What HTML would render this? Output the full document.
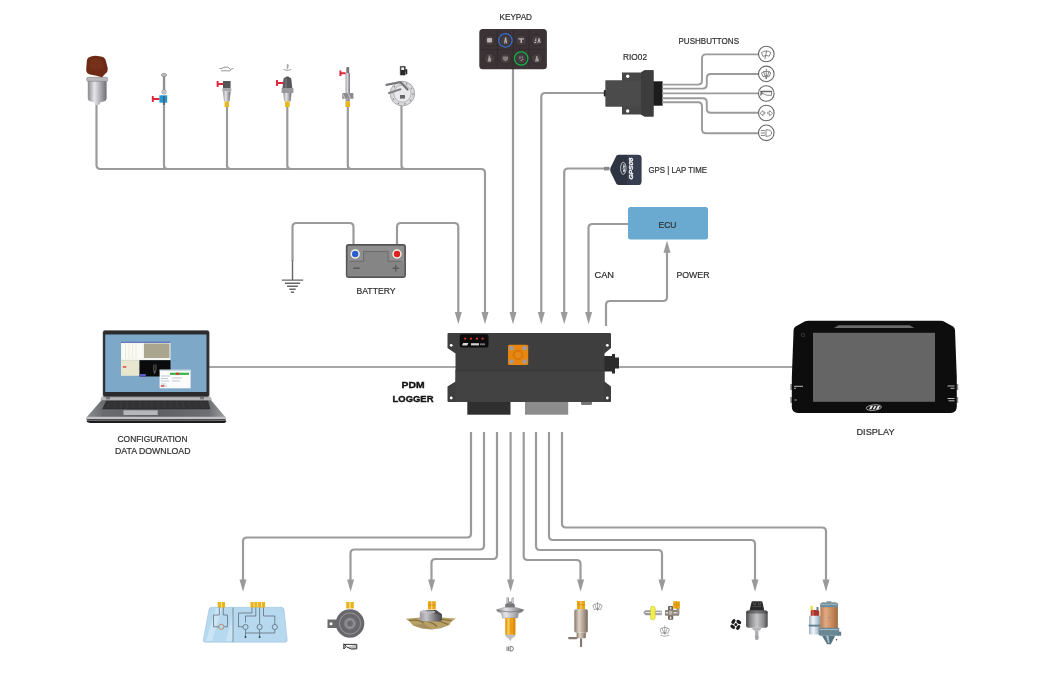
<!DOCTYPE html>
<html><head><meta charset="utf-8"><title>PDM wiring diagram</title>
<style>
html,body{margin:0;padding:0;background:#fff;}
body{width:1057px;height:677px;overflow:hidden;font-family:"Liberation Sans",sans-serif;}
svg{display:block;filter:blur(0.35px);}
.w{fill:none;stroke:#9b9b9b;stroke-width:2.2;stroke-linejoin:round;stroke-linecap:butt;}
.ah{fill:#9b9b9b;}
text{font-family:"Liberation Sans",sans-serif;fill:#303030;font-size:9.3px;stroke:#303030;stroke-width:0.22;}
.b{font-weight:bold;fill:#141414;font-size:9.700px;stroke:#141414;stroke-width:0.400;}
</style></head><body>
<svg width="1057" height="677" viewBox="0 0 1057 677">
<defs>
<linearGradient id="gSilver" x1="0" x2="1" y1="0" y2="0">
<stop offset="0" stop-color="#8a8a8e"/><stop offset="0.35" stop-color="#e6e6ea"/><stop offset="0.7" stop-color="#a4a4aa"/><stop offset="1" stop-color="#6e6e74"/>
</linearGradient>
<linearGradient id="gDark" x1="0" x2="1" y1="0" y2="0">
<stop offset="0" stop-color="#4a4a4a"/><stop offset="0.4" stop-color="#9a9a9a"/><stop offset="1" stop-color="#3c3c3c"/>
</linearGradient>
<linearGradient id="gCyl" x1="0" x2="1" y1="0" y2="0">
<stop offset="0" stop-color="#9a9a9e"/><stop offset="0.300" stop-color="#c4c4c8"/><stop offset="0.700" stop-color="#77777b"/><stop offset="1" stop-color="#4c4c50"/>
</linearGradient>
<linearGradient id="gPump" x1="0" x2="1" y1="0" y2="0">
<stop offset="0" stop-color="#8a786a"/><stop offset="0.350" stop-color="#ddd2c6"/><stop offset="0.650" stop-color="#b4a494"/><stop offset="1" stop-color="#7a695c"/>
</linearGradient>
<linearGradient id="gMotor" x1="0" x2="1" y1="0" y2="0">
<stop offset="0" stop-color="#48484a"/><stop offset="0.200" stop-color="#8a8a8c"/><stop offset="0.500" stop-color="#c6c6c8"/><stop offset="0.800" stop-color="#8e8e90"/><stop offset="1" stop-color="#4a4a4c"/>
</linearGradient>
<linearGradient id="gCopper" x1="0" x2="1" y1="0" y2="0">
<stop offset="0" stop-color="#b87a50"/><stop offset="0.300" stop-color="#e0aa82"/><stop offset="0.650" stop-color="#c98a5e"/><stop offset="1" stop-color="#a06a42"/>
</linearGradient>
<linearGradient id="gSol" x1="0" x2="1" y1="0" y2="0">
<stop offset="0" stop-color="#9db2c0"/><stop offset="0.350" stop-color="#f2f6fa"/><stop offset="0.750" stop-color="#b4c6d2"/><stop offset="1" stop-color="#7f98a6"/>
</linearGradient>
<linearGradient id="gDeck" x1="0" x2="1" y1="0" y2="0">
<stop offset="0" stop-color="#8e8f92"/><stop offset="0.120" stop-color="#6a6b6e"/><stop offset="0.500" stop-color="#5e5f62"/><stop offset="0.880" stop-color="#6e6f72"/><stop offset="1" stop-color="#a2a3a6"/>
</linearGradient>
</defs>
<rect width="1057" height="677" fill="#ffffff"/>
<!--WIRES-->
<g id="wires">
<!-- sensor bus -->
<path class="w" d="M96.5 104V165Q96.5 169 100.5 169H481Q485 169 485 173V313"/>
<path class="w" d="M164 100V165.500Q164 169 167.500 169M227 106V165.500Q227 169 230.500 169M287.300 106V165.500Q287.300 169 290.800 169M347.800 106V165.500Q347.800 169 351.300 169M401.500 105V165.500Q401.500 169 405 169"/>
<!-- keypad -->
<path class="w" d="M513 69V313"/>
<!-- RIO02 -->
<path class="w" d="M606 93H545.300Q541.300 93 541.300 97V313"/>
<!-- GPS -->
<path class="w" d="M610 168.5H568.200Q564.200 168.500 564.200 172.500V313"/>
<!-- CAN -->
<path class="w" d="M628 224H592.5Q588.5 224 588.5 228V313"/>
<!-- POWER -->
<path class="w" d="M606 326V305Q606 301 610 301H663Q667 301 667 297V251"/>
<!-- battery -->
<path class="w" d="M292.500 261V227Q292.500 223 296.500 223H349.5Q353.5 223 353.5 227V246"/>
<path class="w" d="M397 246V227Q397 223 401 223H454.300Q458.300 223 458.300 227V313"/>
<!-- ground -->
<path d="M292.500 260.500V280M281.800 280.100H303.200M284.900 283.200H300.100M287.100 286.200H297.900M289.300 289.200H295.700M290.900 292.300H294.100" stroke="#666" stroke-width="1.400" fill="none"/>
<!-- laptop / display -->
<path d="M209 367H456M618 367H793" stroke="#8a8a8a" stroke-width="1.6" fill="none"/>
<!-- outputs -->
<path class="w" d="M471 432V533.5Q471 537.5 467 537.5H247Q243 537.5 243 541.5V581"/>
<path class="w" d="M484 432V545.5Q484 549.5 480 549.5H354.5Q350.5 549.5 350.5 553.5V581"/>
<path class="w" d="M497 432V555Q497 559 493 559H435.5Q431.5 559 431.5 563V581"/>
<path class="w" d="M510.600 432V581"/>
<path class="w" d="M523.7 432V556Q523.7 560 527.7 560H576.5Q580.5 560 580.5 564V581"/>
<path class="w" d="M536 432V546Q536 550 540 550H658Q662 550 662 554V581"/>
<path class="w" d="M549 432V536Q549 540 553 540H751Q755 540 755 544V581"/>
<path class="w" d="M562 432V523.5Q562 527.5 566 527.5H822Q826 527.5 826 531.5V581"/>
</g>
<!--ARROWS-->
<g id="arrows" class="ah">
<path d="M454.8 312.1h7.0l-3.5 12.2z"/>
<path d="M481.5 312.1h7.0l-3.5 12.2z"/>
<path d="M509.5 312.1h7.0l-3.5 12.2z"/>
<path d="M537.8 312.1h7.0l-3.5 12.2z"/>
<path d="M560.7 312.1h7.0l-3.5 12.2z"/>
<path d="M585.1 312.1h7.0l-3.5 12.2z"/>
<path d="M663.5 252.7h7.0l-3.5 -12.2z"/>
<path d="M239.5 579.6h7.0l-3.5 12.2z"/>
<path d="M347.1 579.6h7.0l-3.5 12.2z"/>
<path d="M428.1 579.6h7.0l-3.5 12.2z"/>
<path d="M507.1 579.6h7.0l-3.5 12.2z"/>
<path d="M577.1 579.6h7.0l-3.5 12.2z"/>
<path d="M658.5 579.6h7.0l-3.5 12.2z"/>
<path d="M751.5 579.6h7.0l-3.5 12.2z"/>
<path d="M822.5 579.6h7.0l-3.5 12.2z"/>
</g>
<!--ECU-->
<rect x="628" y="207" width="80" height="32.5" rx="2.5" fill="#6baad0"/>
<!--BATTERY-->
<g id="battery">
<rect x="346.700" y="244.900" width="58.400" height="32.200" rx="2" fill="#8f8f8f" stroke="#535353" stroke-width="1.700"/>
<path d="M347.600 261.200H363.600V251.400H388.200V261.200H404.200V276.200H347.600Z" fill="#858585"/>
<path d="M349.500 261.200H363.600V251.400H388.200V261.200H401.200" fill="none" stroke="#6a6a6a" stroke-width="1"/>
<circle cx="355.200" cy="254" r="4.700" fill="#f3efe6"/><circle cx="355.200" cy="254" r="3.200" fill="#2a5fd4"/>
<circle cx="397" cy="254" r="4.700" fill="#f3efe6"/><circle cx="397" cy="254" r="3.200" fill="#e02020"/>
<path d="M353.300 268.300H359.800M392.600 268.300H399M395.800 265.100V271.500" stroke="#5a5a5a" stroke-width="1.400" fill="none"/>
</g>
<!--PDM-->
<g id="pdm">
<rect x="467.3" y="400" width="43.2" height="14.7" fill="#2f2f2f"/>
<rect x="525" y="400" width="43.2" height="14.7" fill="#8c8c8c"/>
<rect x="581" y="400" width="11" height="5" rx="1.5" fill="#777"/>
<path d="M603 356h9v-2h3v3.5h4v11h-4v5h-3v-2h-9z" fill="#2b2b2b"/>
<path d="M448.5 333H610Q611 333 611 334V348L604.5 353.500V381.500L611 386.500V401Q611 402 610 402H448.5Q447.5 402 447.5 401V386.500L455.5 381.500V353.500L447.5 348V334Q447.5 333 448.5 333Z" fill="#3e3e3e"/>
<rect x="455.5" y="370.5" width="149" height="31.5" fill="#424242"/>
<path d="M455.5 370.7H604.5" stroke="#353535" stroke-width="0.8"/>
<circle cx="451.2" cy="345.3" r="1.4" fill="#fff"/><circle cx="451.2" cy="398" r="1.4" fill="#fff"/>
<circle cx="607.3" cy="345.3" r="1.4" fill="#fff"/><circle cx="607.3" cy="398" r="1.4" fill="#fff"/>
<rect x="459.8" y="334.2" width="28.7" height="13.3" rx="2" fill="#0c0c0c"/>
<circle cx="465.2" cy="338.7" r="1.1" fill="#d8342c"/><circle cx="471" cy="338.7" r="1.1" fill="#d8342c"/><circle cx="476.9" cy="338.7" r="1.1" fill="#d8342c"/><circle cx="482.6" cy="338.7" r="1.1" fill="#d8342c"/>
<path d="M462 345.5l1.2-2.6h5.2l-1.2 2.6z" fill="#d8d8d8"/><rect x="471" y="343.2" width="8" height="2.2" fill="#cfcfcf"/><rect x="480" y="343.4" width="5" height="1.8" fill="#777"/>
<rect x="508" y="344.8" width="20.2" height="20.2" rx="1.5" fill="#e8850c"/>
<circle cx="518.1" cy="354.9" r="5.2" fill="#d87808"/><circle cx="518.1" cy="354.9" r="3.2" fill="#e48a1a"/>
<circle cx="511.5" cy="348.3" r="2.3" fill="#9a9ca4"/><circle cx="524.7" cy="348.3" r="2.3" fill="#9a9ca4"/><circle cx="511.5" cy="361.5" r="2.3" fill="#9a9ca4"/><circle cx="524.7" cy="361.5" r="2.3" fill="#9a9ca4"/>
</g>
<!--KEYPAD-->
<g id="keypad">
<rect x="479.3" y="29" width="67.6" height="40.3" rx="3.5" fill="#3b3335"/>
<path d="M497.4 30V68M513.2 30V68M529 30V68M480 49.5H546" stroke="#2f292b" stroke-width="0.7"/>
<g fill="#453d3f" stroke="#2e2829" stroke-width="0.8">
<circle cx="489.5" cy="40.4" r="5.6"/><circle cx="505.4" cy="40.4" r="5.6"/><circle cx="521.2" cy="40.4" r="5.6"/><circle cx="537" cy="40.4" r="5.6"/>
<circle cx="489.5" cy="58.5" r="5.6"/><circle cx="505.4" cy="58.5" r="5.6"/><circle cx="521.2" cy="58.5" r="5.6"/><circle cx="537" cy="58.5" r="5.6"/>
</g>
<circle cx="505.4" cy="40.4" r="6.7" fill="none" stroke="#3c6fd2" stroke-width="1.3"/>
<circle cx="521.2" cy="58.5" r="6.7" fill="none" stroke="#16b24c" stroke-width="1.3"/>
<g fill="#cfc9c4" opacity="0.85">
<rect x="487" y="38" width="5" height="4.6" rx="0.8"/>
<path d="M504 43.5l1-6h1.2l1 6h-1l-0.5-2.5l-0.6 2.5z"/>
<path d="M518.5 38.2h5.4v1.2h-1.9v3.6h-1.5v-3.6h-2z"/>
<path d="M534.2 43v-1h2v1zM534.6 41.3l1-3h0.8v3zM537.4 43l1.2-5h0.9l1.2 5h-0.9l-0.3-1.2h-0.9l-0.3 1.2z"/>
<path d="M487.5 61.5l1.5-6h1l0.3 2.5l1 0.3l-0.5 3.4z" opacity="0.8"/>
<path d="M502.8 56.5h5.2v3l-2.6 2l-2.6-2z" opacity="0.55"/>
<path d="M519.3 56.3h1.3v2.6h-1.3zM521.7 56.3h1.3v2h-1.3zM520.2 60.5l2.8-2l0.6 1l-2.8 2z" opacity="0.6"/>
<path d="M535 61.5l1.3-5.6h1.2l0.4 2.8l1 0.4l-0.3 2.4z" opacity="0.8"/>
</g>
</g>
<!--RIO02-->
<g id="rio">
<rect x="653" y="81.3" width="9.6" height="24.4" fill="#1c1c1c"/>
<rect x="603.8" y="90" width="3" height="6.5" rx="1" fill="#222"/>
<path d="M622 72.4H641L644.5 70.2H653.5V116.4H644.5L641 114.6H622V106.6H605.6V80.4H622Z" fill="#474747"/>
<path d="M641 72.4L644.5 70.2H653.5V116.4H644.5L641 114.6Z" fill="#3d3d3d"/>
<path d="M605.6 80.4H641V106.6H605.6Z" fill="#4b4b4b"/>
<circle cx="627.7" cy="76.2" r="1.7" fill="#fff"/><circle cx="627.7" cy="111" r="1.7" fill="#fff"/>
</g>
<!-- RIO wires -->
<g class="w" style="stroke-width:1.9">
<path d="M662 84.6H698Q702 84.6 702 80.6V58.4Q702 54.4 706 54.4H758.5"/>
<path d="M662 88.6H702.8Q706.8 88.6 706.8 84.6V78Q706.8 74 710.8 74H758.5"/>
<path d="M662 93.4H758.5"/>
<path d="M662 98.3H702.8Q706.8 98.3 706.8 102.3V108.8Q706.8 112.8 710.8 112.8H758.5"/>
<path d="M662 102.3H698Q702 102.3 702 106.3V129.2Q702 133.2 706 133.2H758.5"/>
</g>
<!-- pushbutton circles -->
<g fill="#fff" stroke="#686868" stroke-width="1.100">
<circle cx="766.3" cy="54" r="7.800"/><circle cx="766.3" cy="73.9" r="7.800"/><circle cx="766.3" cy="93.5" r="7.800"/><circle cx="766.3" cy="113" r="7.800"/><circle cx="766.3" cy="132.800" r="7.800"/>
</g>
<g fill="none" stroke="#6a6a6a" stroke-width="0.8" stroke-linecap="round" stroke-linejoin="round">
<!-- wiper -->
<path d="M761.8 52.5Q766.3 49.3 770.8 52.5L769.2 56.2Q766.3 54.6 763.4 56.2ZM766.6 51.2L765 58.6"/>
<!-- washer -->
<path d="M761.8 72.8Q766.3 69.6 770.8 72.8L769.2 76.5Q766.3 74.9 763.4 76.5ZM766.3 69V78.6M766.3 78.6Q764.5 75.5 763.6 71.5M766.3 78.6Q768.1 75.5 769 71.5"/>
<!-- horn -->
<path d="M760.800 91L762.800 93.200L760.800 95.400Z" fill="#6a6a6a" stroke-width="0.500"/><path d="M761.200 91.500H771.600" stroke-width="1.300"/><path d="M771.600 91.500V95.300Q766.500 96 763.200 93.800" stroke-width="0.800"/>
<!-- arrows -->
<path d="M760.300 113L762.900 110.600V112.100H764.900V113.900H762.900V115.400ZM772.300 113L769.700 110.600V112.100H767.700V113.900H769.700V115.400Z" stroke-width="0.700"/>
<!-- headlight -->
<path d="M766.4 129.7Q771.6 129.7 771.6 133Q771.6 136.3 766.4 136.3ZM761.2 130.6H764.6M761.2 133H764.6M761.2 135.4H764.6"/>
</g>
<!--GPS-->
<g id="gps">
<path d="M604 166.8h5v3.6h-5z" fill="#8a8a8a"/>
<path d="M616.5 155.6Q617.5 154.8 619 154.8H638Q641.4 154.8 641.4 158V181.5Q641.4 185 638 185H619Q617.5 185 616.5 184L610.6 172Q609.8 169.5 610.6 167.5Z" fill="#2e3442"/>
<path d="M627 155H638Q641.4 155 641.4 158V181.5Q641.4 185 638 185H627Z" fill="#3a4152" opacity="0.8"/>
<ellipse cx="623.300" cy="168.300" rx="2.700" ry="6" fill="none" stroke="#e4e4e4" stroke-width="0.800"/>
<text transform="translate(624.600 172.300) rotate(-90)" style="font-size:3.600px;font-weight:bold;font-style:italic;fill:#f0f0f0;stroke:none" textLength="8" lengthAdjust="spacingAndGlyphs">aim</text>
<text transform="translate(633.200 179.600) rotate(-90)" style="font-size:5.600px;font-weight:bold;font-style:italic;fill:#fafafa;stroke:#fafafa;stroke-width:0.250" textLength="22" lengthAdjust="spacingAndGlyphs">GPS08</text>
</g>
<!--LAPTOP-->
<g id="laptop">
<path d="M89 419.800H224Q228.500 421.300 224.500 423H90Q83.500 421.500 89 419.800Z" fill="#1c1c1c"/>
<path d="M102.500 399H210L226 417.800Q226.300 420.600 223.500 420.600H89.500Q85.800 420.600 86.200 417.800Z" fill="url(#gDeck)"/>
<path d="M101.500 396.500H210.500L212 400.200H100.500Z" fill="#b4b5b8"/>
<rect x="106" y="396.800" width="4" height="2.600" fill="#77787b"/><rect x="200" y="396.800" width="4" height="2.600" fill="#77787b"/>
<path d="M106.200 400.700H208.200L210.200 409.200H102.200Z" fill="#2c2c2e"/>
<path d="M105.500 402.800H208.800M104.700 404.900H209.300M103.800 407H209.800" stroke="#4a4a4d" stroke-width="0.500"/>
<path d="M110 400.700L107 409.200M116 400.700L113.500 409.200M122 400.700L120 409.200M128 400.700L126.500 409.200M134 400.700L133 409.200M140 400.700L139.500 409.200M146 400.700V409.200M152 400.700V409.200M158 400.700L158.500 409.200M164 400.700L165 409.200M170 400.700L171.500 409.200M176 400.700L178 409.200M182 400.700L184.500 409.200M188 400.700L191 409.200M194 400.700L197.500 409.200M200 400.700L204 409.200" stroke="#454548" stroke-width="0.450"/>
<rect x="123.500" y="410.300" width="34.200" height="4.700" fill="#b6b7ba"/>
<path d="M87.300 416.800H225L226 417.800Q226.300 420.600 223.500 420.600H89.500Q85.800 420.600 86.200 417.800Z" fill="#c2c3c6"/>
<path d="M87 419H225.500Q226 420.600 223.500 420.600H89.500Q86 420.600 87 419Z" fill="#4c4c4e"/>
<rect x="103" y="330.6" width="106.2" height="66.200" rx="1.800" fill="#2c2c2e" stroke="#5e5e60" stroke-width="0.500"/>
<rect x="105.200" y="334.500" width="101.300" height="57.500" fill="#7ea8c8"/>
<rect x="121" y="341.8" width="49.5" height="18.4" fill="#f4f3ee"/>
<rect x="121" y="341.6" width="49.5" height="1.2" fill="#4060b0"/>
<rect x="144" y="343.5" width="25.5" height="14.5" fill="#a9a58f"/>
<rect x="122" y="343.5" width="20" height="15" fill="#fbfbf6"/><path d="M125.5 343.5V358.5M129 343.5V358.5M132.500 343.5V358.5M136 343.5V358.5" stroke="#d8d8cc" stroke-width="0.5"/>
<rect x="121" y="360.2" width="18.5" height="15.6" fill="#e9e6cf"/>
<rect x="139.5" y="360.2" width="31" height="16.3" fill="#0a0a0a"/>
<path d="M154 364.5Q153 369 154.5 373.5Q156.5 370 156 364.5" stroke="#888" stroke-width="0.7" fill="none"/>
<rect x="139.800" y="374" width="6" height="2.400" fill="#5a5ad0"/>
<rect x="159.600" y="369.800" width="31" height="18.500" fill="#fbfbfb"/>
<rect x="159.600" y="369.6" width="31" height="1.2" fill="#bcd"/>
<rect x="170" y="372.700" width="19" height="2.200" fill="#3cb34a"/><rect x="176" y="372.700" width="3" height="2.200" fill="#d33"/>
<path d="M161 376H170M161 378.500H168M161 381H169M161 384H166M161 386.200H167M172 378H182M172 381H180" stroke="#9ab" stroke-width="0.6"/>
<rect x="160.800" y="385.300" width="3.500" height="1.300" fill="#d33"/><rect x="122.800" y="366.300" width="3.500" height="1.300" fill="#d33"/>
</g>
<!--DISPLAY-->
<g id="display">
<rect x="790.300" y="384" width="2" height="6" fill="#8c8c8c"/><rect x="790.300" y="397" width="2" height="6" fill="#8c8c8c"/>
<rect x="956.200" y="384" width="2" height="6" fill="#8c8c8c"/><rect x="956.200" y="397" width="2" height="6" fill="#8c8c8c"/>
<path d="M808.500 320.800H940.500Q942.500 320.800 944 321.600L953 326.500Q954.800 327.600 955 330L956.800 378V406.500Q956.800 413 950.500 413H798Q791.800 413 791.800 406.500V378L793.600 330Q793.800 327.600 795.600 326.500L804.500 321.600Q806 320.800 808.500 320.800Z" fill="#0d0d0d"/>
<path d="M838.500 325.200H909.500L914.300 328H834Z" fill="#6a6a6a"/>
<rect x="813" y="332.800" width="122" height="69" fill="#656565"/>
<circle cx="803" cy="335" r="1.700" fill="none" stroke="#3c3c3c" stroke-width="0.800"/>
<path d="M794 386.300H803M794 388.300H796M794.500 400H796.500M947.500 386H954.500M950.500 388.300H954.500M947.500 398.500H954.500M948.500 400.800H954.500" stroke="#d0d0d0" stroke-width="0.900"/>
<ellipse cx="873.800" cy="407.600" rx="7.600" ry="2.700" fill="none" stroke="#e6e6e6" stroke-width="0.700" transform="rotate(-6 873.800 407.600)"/>
<path d="M869 409.200l1.700-3.300h2.300l-1.700 3.300zM872.700 409.200l1.700-3.300h2l-1.700 3.300zM876 409.200l1.700-3.300h2.300l-1.700 3.300z" fill="#e6e6e6"/>
</g>

<!--SENSORS TOP-->
<g id="sensors">
<!-- 1 rain/light sensor -->
<path d="M87.800 81H106.600V98Q106.600 101 103.500 101.500L100.500 102.300L99.300 104.600Q97.200 105.900 95.100 104.600L93.900 102.300L90.900 101.500Q87.800 101 87.800 98Z" fill="url(#gSilver)"/>
<rect x="86.800" y="77.300" width="20.800" height="4" rx="1" fill="#b9b9be" stroke="#77777c" stroke-width="0.500"/>
<path d="M88.500 57.500Q93 55 99.500 56.200Q105 56.800 105.800 60.500L107.800 68.500Q108 72 105.500 73.500L102 77.300Q97 75.500 90 74.500Q86 73.500 86.200 69.500L86.800 61Q87 58.500 88.500 57.500Z" fill="#6e2a16"/>
<path d="M90 60Q95 58 102 60L104 68Q98 71 90 69Z" fill="#7a331c" opacity="0.700"/>
<!-- 2 level sensor -->
<rect x="162.900" y="76" width="2.300" height="18" fill="#8d8d92"/>
<ellipse cx="164" cy="75" rx="2.800" ry="1.700" fill="#b5b5ba" stroke="#77777c" stroke-width="0.400"/>
<circle cx="164" cy="92" r="2.300" fill="#c8c8cc" stroke="#77777c" stroke-width="0.400"/>
<rect x="159.400" y="95.300" width="7.800" height="7.400" fill="#1f9ad6"/>
<rect x="163" y="96" width="2" height="9" fill="#555" opacity="0.700"/>
<path d="M152.800 96V102M152.800 99H159.400" stroke="#e0243a" stroke-width="1.900" fill="none"/>
<!-- 3 oil pressure -->
<path d="M219.500 68.500H222L224 67.200H228L230.500 69.500L233.500 68.200M221 70.800H229.500L231 69.500" stroke="#8a8a8a" stroke-width="0.900" fill="none"/>
<rect x="223" y="81" width="7.600" height="7.500" fill="#555558"/>
<rect x="222.300" y="88.500" width="9" height="3" fill="#a8a8ad"/>
<path d="M223 91.500H230.600L229.600 101.500H224Z" fill="url(#gSilver)"/>
<rect x="224.600" y="101.500" width="4.400" height="5.500" fill="#e6b81e"/>
<path d="M217.600 81V87M217.600 84H223" stroke="#e0243a" stroke-width="1.900" fill="none"/>
<!-- 4 temp sensor -->
<path d="M283.500 69.500Q287.300 71.500 291.300 69.500M287.300 64V69.500M287.300 65.200H289M287.300 67H289" stroke="#8a8a8a" stroke-width="0.800" fill="none"/>
<path d="M283.400 79.500Q283.400 77.600 285.500 77.300L286.500 76.400H288.300L289.300 77.300Q291.400 77.600 291.400 79.500L292.300 88.500H282.500Z" fill="#58585c"/><path d="M285 78.500H287V88H284.600Z" fill="#77777b" opacity="0.700"/>
<rect x="281.600" y="88" width="11.800" height="5" fill="#98989d"/>
<path d="M283.300 93H291.500L290.700 101.300H284.200Z" fill="url(#gSilver)"/>
<rect x="285.100" y="101.300" width="4.600" height="5.700" fill="#e6b81e"/>
<path d="M277 80V86M277 83H283.500" stroke="#e0243a" stroke-width="1.900" fill="none"/>
<!-- 5 thin sensor -->
<rect x="346.300" y="67" width="2.900" height="7" rx="1" fill="#77777c"/>
<rect x="345.600" y="73" width="4.300" height="20" fill="url(#gSilver)"/>
<rect x="342.200" y="93" width="11.200" height="5.800" fill="#8d8d92"/>
<path d="M342.200 93L345 98.800M348 93L350.500 98.800" stroke="#c8c8cc" stroke-width="1"/>
<rect x="345.600" y="98.800" width="4.300" height="2.700" fill="#9a9a9f"/>
<rect x="345.400" y="101.300" width="4.600" height="5.700" fill="#e6b81e"/>
<path d="M340.400 70.500V76M340.400 73.200H345.600" stroke="#e0243a" stroke-width="1.900" fill="none"/>
<!-- 6 fuel level -->
<path d="M400.300 66.400H405.200V75H400.300ZM405.200 69.500H407V74H406" fill="#2a2a2a" stroke="#2a2a2a" stroke-width="0.600"/>
<rect x="401.200" y="67.400" width="3" height="2.600" fill="#eee"/>
<circle cx="402.400" cy="93.600" r="12.300" fill="#d9d9dc" stroke="#9a9a9e" stroke-width="0.800"/>
<circle cx="402.400" cy="93.600" r="8.600" fill="#e9e9ec" stroke="#a6a6aa" stroke-width="0.700"/>
<circle cx="402.400" cy="93.600" r="10.500" fill="none" stroke="#8a8a8e" stroke-width="1.400" stroke-dasharray="1.300 5.300"/>
<path d="M386.500 84.800L400.500 82L407.500 89.500" stroke="#77777b" stroke-width="2.200" fill="none" stroke-linejoin="round" stroke-linecap="round"/>
<path d="M389 93L400.500 89.300" stroke="#85858a" stroke-width="2.200" fill="none" stroke-linecap="round"/>
<rect x="400" y="95" width="5" height="3.600" fill="#66666a"/>
</g>

<!--BOTTOM ICONS-->
<g id="outputs">
<!-- 1 lights panel -->
<path d="M211.500 607.300H281.500Q283.500 607.300 284 609.500L287.200 640Q287.400 642.200 285.200 642.200H205.200Q203 642.200 203.300 640L209 609.500Q209.500 607.300 211.500 607.300Z" fill="#b7d9ef" stroke="#9cc3dd" stroke-width="0.600"/>
<path d="M206 641L216 608H222L212 641ZM226 641L233 615V641Z" fill="#d4eaf7" opacity="0.700"/>
<path d="M233 607.500V642" stroke="#6f7f8a" stroke-width="0.800"/>
<g fill="#e8b41a"><rect x="217.700" y="602" width="3.300" height="5.600"/><rect x="221.700" y="602" width="3.300" height="5.600"/>
<rect x="250.500" y="602" width="3.200" height="5.600"/><rect x="254.300" y="602" width="3.200" height="5.600"/><rect x="258.100" y="602" width="3.200" height="5.600"/><rect x="261.900" y="602" width="3.200" height="5.600"/></g>
<g fill="none" stroke="#55606a" stroke-width="0.700">
<path d="M219.300 607.600V615H213.500V626.800H218.800M223.300 607.600V615H227.500V626.800H223.800"/>
<circle cx="221.300" cy="626.800" r="2.600" stroke="#b8733a"/>
<path d="M252 607.600V613H238.500V626.800H243M255.800 607.600V616H245.500V622.500M259.600 607.600V619H259.600V624M263.500 607.600V616H274.800V624.500"/>
<circle cx="245.500" cy="627" r="2.600"/><circle cx="259.600" cy="627" r="2.600"/><circle cx="274.800" cy="627" r="2.600"/>
<path d="M245.500 629.600V637M259.600 629.600V637M274.800 629.600V633H245.500"/>
</g>
<circle cx="245.500" cy="637" r="0.900" fill="#333"/><circle cx="259.600" cy="637" r="0.900" fill="#333"/>
<!-- 2 horn -->
<g fill="#e8b41a"><rect x="346.200" y="602" width="3.400" height="6.500"/><rect x="350.400" y="602" width="3.400" height="6.500"/></g>
<path d="M327.500 619.500H338V628H327.500Z" fill="#6b6b6e"/><circle cx="331" cy="623.700" r="1.500" fill="#fff"/>
<circle cx="350" cy="623.500" r="14.300" fill="#68686c"/>
<circle cx="350" cy="623.500" r="10.600" fill="none" stroke="#a2a2a6" stroke-width="0.800"/>
<circle cx="350" cy="623.500" r="6.200" fill="#7c7c80"/>
<circle cx="350" cy="623.500" r="4.300" fill="none" stroke="#a8a8ac" stroke-width="0.900"/>
<circle cx="350" cy="623.500" r="2.600" fill="#6c6c70"/>
<path d="M343.800 643.800L346.400 646.400L343.800 649ZM344.300 644.400H356.800M356.800 644.400V648.800Q351 650.200 346.800 647" fill="#333" fill-opacity="0.300" stroke="#333" stroke-width="1"/>
<!-- 3 wiper -->
<g fill="#eaa614"><rect x="428" y="601.200" width="3.500" height="8.300"/><rect x="432.200" y="601.200" width="3.500" height="8.300"/></g>
<path d="M427.800 605H436" stroke="#c98a0c" stroke-width="0.600"/>
<path d="M405.800 618.800L420 617.500L442 617.500L456 618.600L451 621.800L449.500 625L441 628.300L432 629.500L422 628.500L413 625.500L410 622Z" fill="#b9a068"/>
<path d="M409 620.500Q420 619 424 623.500M419 621Q430 620 437 626.500M432 619.500Q441 621 448 624.500M440 619Q447 620 452 621" stroke="#7d7038" stroke-width="1.100" fill="none"/>
<path d="M424 623.500L432 629.300L422 628.300L413 625.300Z" fill="#a8905e"/>
<path d="M419.800 613Q419.800 610.300 425 610H436L442 614.500V620Q442 621.500 431 621.500Q419.800 621.500 419.800 620Z" fill="url(#gCyl)"/>
<path d="M426 610H436L442 614.500V616Q435 613 427 612.300Z" fill="#4e4e52"/>
<ellipse cx="428" cy="612" rx="7.500" ry="1.600" fill="#c2c2c6" opacity="0.800"/>
<!-- 4 bulb -->
<path d="M506.500 597.500H509V601.500H511.500V598.500L513.500 597V603L514.500 604.500V608H505.500V604.500L506.500 603Z" fill="#909095"/>
<path d="M507.600 598V603M512.500 598.500V603" stroke="#dcdce0" stroke-width="0.800"/>
<path d="M505.300 604.500Q510 602.500 514.700 604.500V608H505.300Z" fill="#77777c"/>
<path d="M496.300 609.800L505 607.200H515L523.800 609.800Q523 612 518.500 613.300L517.500 618H502.500L501.500 613.300Q497 612 496.300 609.800Z" fill="url(#gSilver)" stroke="#7d7d82" stroke-width="0.400"/>
<path d="M497 610.500Q510 613.500 523 610.500" stroke="#6a6a6e" stroke-width="0.700" fill="none"/>
<path d="M505.200 618H515.300V634.800H505.200Z" fill="#eb9f12"/>
<path d="M507.300 618H509.600V634.800H507.300Z" fill="#f6c860"/><path d="M513.300 618H515.300V634.800H513.300Z" fill="#d98a0a"/>
<path d="M505.200 634.800H515.300V636L511.500 639L510.300 641.300L509 639L505.200 636Z" fill="#bdbdc2"/>
<path d="M507 646.500V651M508.600 646.500V651M510.200 646.300Q513.500 646.300 513.500 648.700Q513.500 651.200 510.200 651.200Z" fill="none" stroke="#444" stroke-width="0.700"/>
<!-- 5 washer pump -->
<g fill="#eaa614"><rect x="577" y="601" width="3.700" height="8.500"/><rect x="581.300" y="601" width="3.700" height="8.500"/></g>
<path d="M576.800 604.800H585.200" stroke="#c98a0c" stroke-width="0.600"/>
<path d="M574.300 611Q574.300 609.200 576.100 609.200H586Q587.800 609.200 587.800 611V631Q587.800 632.400 586.400 632.400H575.700Q574.300 632.400 574.300 631Z" fill="url(#gPump)"/>
<path d="M576.600 632.400H585.800V637.300Q585.800 638.300 584.800 638.300H577.600Q576.600 638.300 576.600 637.300Z" fill="url(#gPump)"/>
<rect x="568.200" y="637" width="9" height="2.300" rx="0.800" fill="#857870"/>
<rect x="580" y="638.300" width="2.100" height="8.700" fill="#857870"/>
<g fill="none" stroke="#777" stroke-width="0.600"><path d="M592.800 605.400Q597.500 601.800 602.200 605.400L600.700 609.600Q597.500 608.100 594.300 609.600ZM597.500 602V610.300M597.500 610.300Q595.700 607.500 594.800 604M597.500 610.300Q599.300 607.500 600.200 604"/></g>
<!-- 6 washer jets -->
<path d="M643.300 612.600L645.500 610.200H651V615.200H645.500Z" fill="#9a9a9e"/>
<rect x="655" y="610.500" width="7" height="4.700" rx="0.800" fill="#aaaaae"/>
<path d="M645.500 612.500H651M655.500 612.500H661.500" stroke="#e8e8ea" stroke-width="1.200"/>
<rect x="650.500" y="606.200" width="4.700" height="13.600" rx="2" fill="#f2ee4c" stroke="#c2b830" stroke-width="0.500"/>
<rect x="668" y="605.900" width="5.200" height="13.900" rx="0.800" fill="#6c645e"/>
<rect x="665" y="610" width="14.200" height="5.800" rx="0.800" fill="#8b837c"/>
<path d="M665.800 612.800H668M673.500 612.800H678.500M670.600 607V609.500M670.600 616.500V619" stroke="#e2deda" stroke-width="1.500"/>
<rect x="669" y="611" width="3.200" height="3.600" fill="#bdb6ae"/>
<rect x="676.500" y="607.500" width="2.800" height="6" fill="#9a928a"/>
<g fill="#eaa614"><rect x="673.200" y="601.300" width="6.700" height="7.300"/></g>
<path d="M673.200 604.800H679.900M676.500 601.300V608.600" stroke="#c98a0c" stroke-width="0.600"/>
<g fill="none" stroke="#777" stroke-width="0.600"><path d="M660 629.200Q664.700 625.600 669.400 629.200L667.900 633.400Q664.700 631.900 661.500 633.400ZM664.700 625.500V634.300M664.700 634.300Q662.900 631.300 662 627.800M664.700 634.300Q666.500 631.300 667.400 627.800M660.500 635.300Q664.700 637.300 669 635.300"/></g>
<!-- 7 fan motor -->
<path d="M749.400 611L751.500 602.300Q751.700 601.300 752.800 601.300H761.200Q762.200 601.300 762.500 602.300L764.400 611Z" fill="#2a2a2a"/>
<path d="M753.300 601.300V604.500H755.500V601.300M758.500 601.300V604.500H760.700V601.300M752.500 606.500H761.500" stroke="#555" stroke-width="0.800" fill="none"/>
<path d="M746.100 612.500Q746.100 610.500 748.100 610.500H765.700Q767.700 610.500 767.700 612.500V625.700Q767.700 627.700 765.700 627.700H748.100Q746.100 627.700 746.100 625.700Z" fill="url(#gMotor)"/>
<path d="M746.100 612.500Q746.100 610.500 748.100 610.500H765.700Q767.700 610.500 767.700 612.500V613.500H746.100Z" fill="#3a3a3c" opacity="0.550"/>
<path d="M751.800 627.700H761.700L760 630.600H753.500Z" fill="#b4b4b8"/>
<rect x="755" y="630.400" width="3.500" height="6.500" fill="#b0b0b4"/>
<ellipse cx="756.800" cy="637.800" rx="1.900" ry="2.200" fill="#a2a2a6"/>
<g fill="#1c1c1c" transform="translate(735.800 624.400)">
<ellipse cx="-2.400" cy="-3" rx="2.700" ry="1.700" transform="rotate(-55 -2.400 -3)"/>
<ellipse cx="3" cy="-2.400" rx="2.700" ry="1.700" transform="rotate(35 3 -2.400)"/>
<ellipse cx="2.400" cy="3" rx="2.700" ry="1.700" transform="rotate(-55 2.400 3)"/>
<ellipse cx="-3" cy="2.400" rx="2.700" ry="1.700" transform="rotate(35 -3 2.400)"/>
<circle r="1.500"/>
</g>
<!-- 8 starter -->
<rect x="810.500" y="605.900" width="2.200" height="5" fill="#e8d838"/>
<path d="M810.700 611.500Q810.700 609.900 812.300 609.900H817.700Q819.300 609.900 819.300 611.500V616.500H810.700Z" fill="#a8342c"/>
<path d="M812 610.500H814V616.500H812Z" fill="#c8584e"/>
<rect x="816.500" y="607" width="2" height="3.500" fill="#5e7f8c"/>
<rect x="809" y="615.800" width="11.500" height="18.600" rx="1.200" fill="url(#gSol)"/>
<rect x="808.700" y="624.700" width="12" height="1.800" fill="#5e7f8c"/>
<rect x="826.600" y="601.200" width="4.700" height="2.500" fill="#7f9aa6"/>
<path d="M820.300 605Q820.300 602.600 822.700 602.600H835.500Q837.900 602.600 837.900 605V628.400H820.300Z" fill="url(#gCopper)"/>
<path d="M820.300 605Q820.300 602.600 822.700 602.600H835.500Q837.900 602.600 837.900 605V607.200H820.300Z" fill="#6f8e9b"/>
<path d="M821 604.300H837" stroke="#b4cad4" stroke-width="0.700"/>
<circle cx="829" cy="617.600" r="0.900" fill="#8a8f92"/>
<path d="M818.700 627.700H839.200V634Q839.200 635.700 837.500 635.700H820.400Q818.700 635.700 818.700 634Z" fill="#6a8894"/>
<path d="M819.500 629.500H838.500" stroke="#a9c0cc" stroke-width="0.900"/>
<rect x="837.900" y="631.700" width="3.300" height="4" fill="#5e7f8c"/>
<path d="M822 635.700H835.200L832 642L830.800 644.300H827L825.800 642Z" fill="#587480"/>
<path d="M826 636L828 643H829.500L828.500 636Z" fill="#a9c0cc"/>
<circle cx="836.600" cy="639.800" r="0.700" fill="#333"/>
</g>

<!--ICONS-->
<!--TEXT-->
<g id="labels">
<text x="499.5" y="20.1" textLength="32.5" lengthAdjust="spacingAndGlyphs">KEYPAD</text>
<text x="623" y="60.2" textLength="24" lengthAdjust="spacingAndGlyphs">RIO02</text>
<text x="678.5" y="43.6" textLength="60.5" lengthAdjust="spacingAndGlyphs">PUSHBUTTONS</text>
<text x="648.5" y="172.7" textLength="58.5" lengthAdjust="spacingAndGlyphs">GPS | LAP TIME</text>
<text x="658.5" y="227.5" textLength="18" lengthAdjust="spacingAndGlyphs">ECU</text>
<text x="594.5" y="278" textLength="19.5" lengthAdjust="spacingAndGlyphs">CAN</text>
<text x="676.5" y="277.5" textLength="33" lengthAdjust="spacingAndGlyphs">POWER</text>
<text x="356.5" y="294" textLength="39" lengthAdjust="spacingAndGlyphs">BATTERY</text>
<text x="117.5" y="442.3" textLength="70" lengthAdjust="spacingAndGlyphs">CONFIGURATION</text>
<text x="115" y="454" textLength="75.5" lengthAdjust="spacingAndGlyphs">DATA DOWNLOAD</text>
<text x="856.5" y="434.6" textLength="38" lengthAdjust="spacingAndGlyphs">DISPLAY</text>
<text class="b" x="401.5" y="387.600" textLength="23" lengthAdjust="spacingAndGlyphs">PDM</text>
<text class="b" x="392.5" y="401.700" textLength="41" lengthAdjust="spacingAndGlyphs">LOGGER</text>
</g>

</svg>
</body></html>
